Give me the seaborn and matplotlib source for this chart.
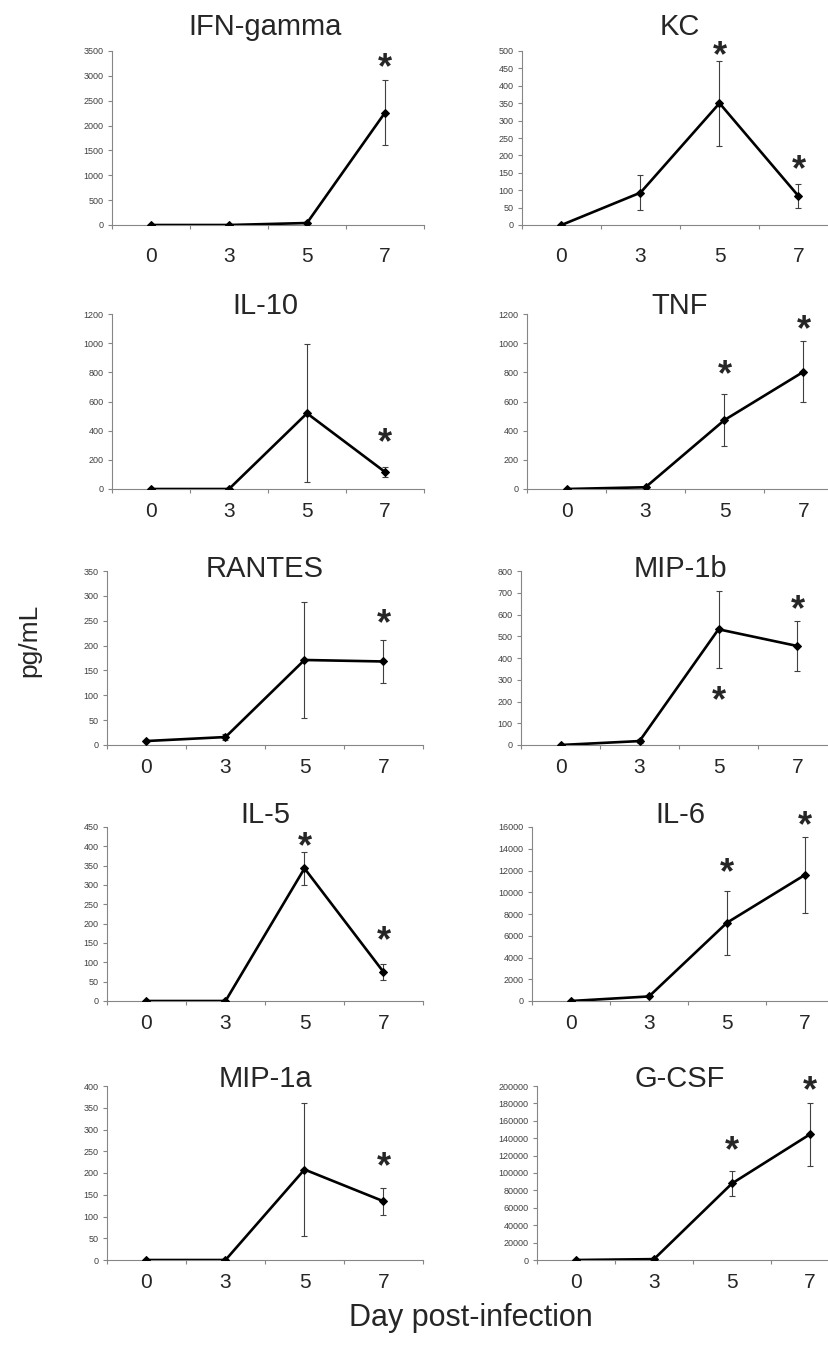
import matplotlib
matplotlib.use("Agg")
import matplotlib.pyplot as plt
import numpy as np
import pandas as pd
import seaborn as sns

# ---- data ----
days = ["0", "3", "5", "7"]

names = ["IFN-gamma", "KC", "IL-10", "TNF", "RANTES",
         "MIP-1b", "IL-5", "IL-6", "MIP-1a", "G-CSF"]

ifn_mean = [0, 0, 40, 2260]
ifn_err = [0, 0, 15, 660]
kc_mean = [0, 93, 350, 83]
kc_err = [0, 50, 122, 35]
il10_mean = [0, 0, 519, 117]
il10_err = [0, 0, 473, 37]
tnf_mean = [0, 12, 473, 804]
tnf_err = [0, 0, 180, 210]
rantes_mean = [8, 16, 171, 168]
rantes_err = [0, 6, 117, 43]
mip1b_mean = [0, 18, 532, 455]
mip1b_err = [0, 10, 178, 116]
il5_mean = [0, 0, 343, 75]
il5_err = [0, 0, 42, 20]
il6_mean = [0, 420, 7200, 11600]
il6_err = [0, 0, 2950, 3500]
mip1a_mean = [0, 0, 208, 135]
mip1a_err = [0, 0, 153, 31]
gcsf_mean = [0, 1000, 88000, 144500]
gcsf_err = [0, 0, 14800, 36000]

# axis max and tick step for each panel
y_max = [3500, 500, 1200, 1200, 350, 800, 450, 16000, 400, 200000]
y_step = [500, 50, 200, 200, 50, 100, 50, 2000, 50, 20000]

# significance stars: (day index, height in data units)
stars = [
    [(3, 3319)],
    [(2, 509), (3, 181)],
    [(3, 370)],
    [(2, 837), (3, 1145)],
    [(3, 261)],
    [(2, 239), (3, 657)],
    [(2, 421), (3, 176)],
    [(2, 12506), (3, 16828)],
    [(3, 234)],
    [(2, 134480), (3, 203450)],
]

means = [ifn_mean, kc_mean, il10_mean, tnf_mean, rantes_mean,
         mip1b_mean, il5_mean, il6_mean, mip1a_mean, gcsf_mean]
errs = [ifn_err, kc_err, il10_err, tnf_err, rantes_err,
        mip1b_err, il5_err, il6_err, mip1a_err, gcsf_err]

# ---- layout (pixels: left, top, width, height) ----
W, H = 829, 1346
boxes = [(112, 51, 312, 174), (522, 51, 316, 174),
         (112, 314, 312, 175), (527, 314, 316, 175),
         (107, 571, 316, 174), (521, 571, 316, 174),
         (107, 827, 316, 174), (532, 827, 312, 174),
         (107, 1086, 316, 174), (537, 1086, 312, 174)]
title_base = [35, 314, 577, 823, 1087]
title_x = [265, 680]

sns.set_style("white")
plt.rcParams['font.family'] = ['Liberation Sans', 'DejaVu Sans']

fig = plt.figure(figsize=(W / 100, H / 100), dpi=100)

axis_grey = "#868686"
x = np.arange(len(days))

for i, name in enumerate(names):
    l, t, w, h = boxes[i]
    ax = fig.add_axes([l / W, 1 - (t + h) / H, w / W, h / H])
    df = pd.DataFrame({"pos": x, "val": means[i]})

    ax.errorbar(x, means[i], yerr=errs[i], fmt="none", ecolor="#404040",
                elinewidth=0.8, capsize=2.5, capthick=0.8, zorder=2)
    sns.lineplot(data=df, x="pos", y="val", ax=ax, color="black",
                 linewidth=1.9, marker="D", markersize=4,
                 markeredgecolor="black", zorder=3)

    ax.set_xlim(-0.5, 3.5)
    ax.set_ylim(0, y_max[i])
    ax.set_yticks(np.arange(0, y_max[i] + 1, y_step[i]))
    ax.set_xticks(np.arange(-0.5, 4, 1))
    ax.set_xticklabels([])
    ax.set_xticks(x, minor=True)
    ax.set_xticklabels(days, minor=True)
    ax.set_xlabel("")
    ax.set_ylabel("")

    for s in ["top", "right"]:
        ax.spines[s].set_visible(False)
    for s in ["left", "bottom"]:
        ax.spines[s].set_color(axis_grey)
        ax.spines[s].set_linewidth(0.8)

    pad = 16 if i < 2 else 9.5
    ax.tick_params(axis="y", which="major", direction="out", length=3,
                   width=0.8, color=axis_grey, labelsize=6.5,
                   labelcolor="#404040", pad=3, left=True)
    ax.tick_params(axis="x", which="major", direction="out", length=3,
                   width=0.8, color=axis_grey, bottom=True)
    ax.tick_params(axis="x", which="minor", length=0, labelsize=15,
                   pad=pad, bottom=True)

    for d, yv in stars[i]:
        ax.annotate("*", (d, yv), xytext=(0, -9), textcoords="offset pixels",
                    ha="center", va="center", fontsize=26,
                    fontweight="bold", annotation_clip=False)

    row, col = divmod(i, 2)
    fig.text(title_x[col] / W, 1 - title_base[row] / H, name,
             ha="center", va="baseline", fontsize=21)

fig.text(29 / W, 1 - 640 / H, "pg/mL", rotation=90, ha="center",
         va="center", fontsize=19)
fig.text(471 / W, 1 - 1318 / H, "Day post-infection", ha="center",
         va="center", fontsize=22)

fig.savefig("out.png", dpi=100)
